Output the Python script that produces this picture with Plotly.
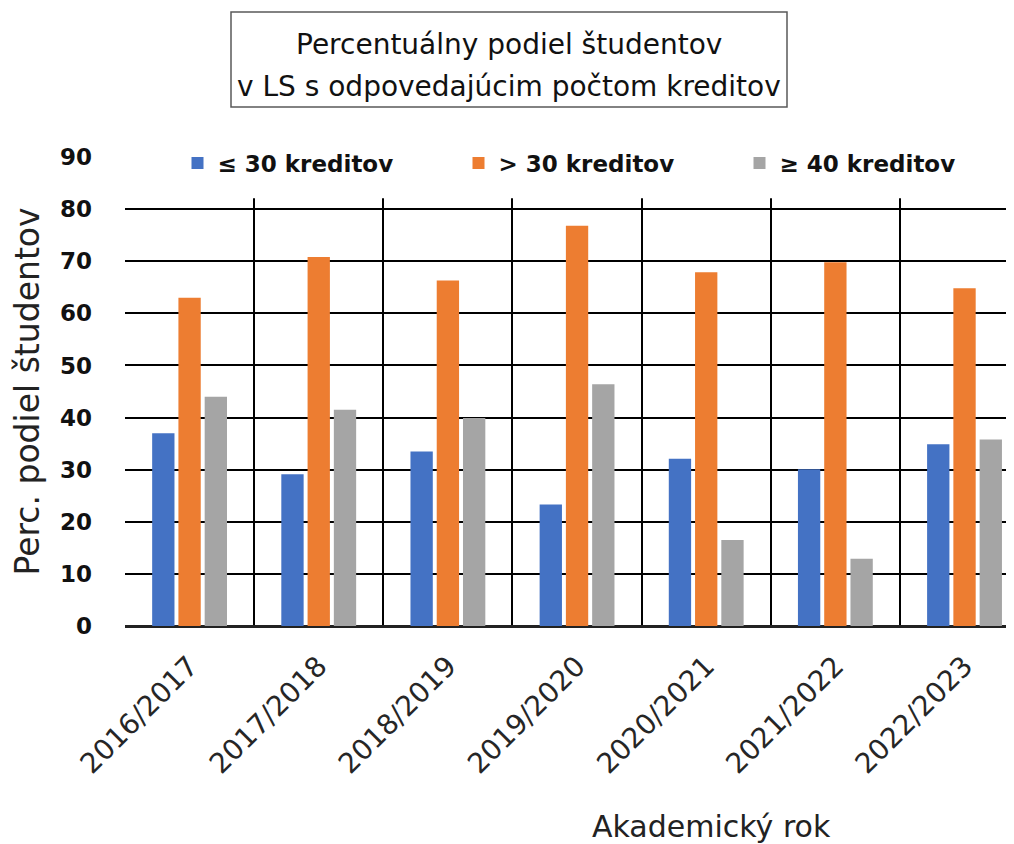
import plotly.graph_objects as go

years = ["2016/2017", "2017/2018", "2018/2019", "2019/2020", "2020/2021", "2021/2022", "2022/2023"]
le30 = [37.0, 29.1, 33.5, 23.3, 32.1, 30.1, 34.9]
gt30 = [63.0, 70.8, 66.3, 76.8, 67.9, 69.8, 64.8]
ge40 = [44.0, 41.5, 39.9, 46.4, 16.5, 12.9, 35.8]
series_names = ["≤ 30 kreditov", "> 30 kreditov", "≥ 40 kreditov"]
colors = ["#4472C4", "#ED7D31", "#A5A5A5"]

FONT = "DejaVu Sans"
OFF = 8  # page body margin in the browser
W, H = 1014, 844
L, R, T, B = 125 - OFF, 0, 157 - OFF, H - (626 - OFF)
PW, PH = W - L - R, H - T - B


def px_x(px):  # screen px -> paper x
    return (px - OFF - L) / PW


def px_y(py):  # screen px -> paper y
    return (H - B - (py - OFF)) / PH


fig = go.Figure()
for name, vals, col in zip(series_names, [le30, gt30, ge40], colors):
    fig.add_trace(go.Bar(x=years, y=vals, name=name, marker=dict(color=col, line=dict(width=0))))

fig.update_layout(
    width=W, height=H,
    paper_bgcolor="white", plot_bgcolor="white",
    margin=dict(l=L, r=R, t=T, b=B, autoexpand=False),
    barmode="group", bargap=0.39, bargroupgap=0.15,
    font=dict(family=FONT, color="#000000"),
    showlegend=True,
    legend=dict(orientation="h", x=px_x(177.5), y=px_y(163), xanchor="left", yanchor="middle",
                bgcolor="rgba(0,0,0,0)", font=dict(size=23, family=FONT, color="#111", weight="bold"),
                entrywidth=236, entrywidthmode="pixels"),
)
fig.update_xaxes(
    range=[-0.5, 6.445], tickson="boundaries", showgrid=True, gridcolor="#000000", gridwidth=2,
    ticks="", tickangle=-45, tickfont=dict(size=28, family=FONT, color="#262626"),
    ticklabelstandoff=17, showline=False, zeroline=False, automargin=False,
)
fig.update_yaxes(
    range=[0, 90], dtick=10, showgrid=True, gridcolor="#000000", gridwidth=2,
    zeroline=True, zerolinecolor="#222", zerolinewidth=3, automargin=False,
    tickfont=dict(size=23, family=FONT, color="#111", weight="bold"), ticklabelstandoff=32,
    title=dict(text="Perc. podiel študentov", font=dict(size=33, family=FONT, color="#222"), standoff=15),
)
# white band hiding the top of the plot area (above ~82)
fig.add_shape(type="rect", xref="paper", yref="y", x0=-0.003, x1=1.0, y0=82.1, y1=90.5,
              fillcolor="white", line=dict(width=0), layer="above")
# title box
fig.add_shape(type="rect", xref="paper", yref="paper", x0=px_x(231), x1=px_x(787),
              y0=px_y(107), y1=px_y(12), fillcolor="white", line=dict(color="#595959", width=1.5),
              layer="above")
for line_text, cy in [("Percentuálny podiel študentov", 44), ("v LS s odpovedajúcim počtom kreditov", 86)]:
    fig.add_annotation(text=line_text, xref="paper", yref="paper", x=px_x(509), y=px_y(cy),
                       xanchor="center", yanchor="middle", showarrow=False,
                       font=dict(size=28, family=FONT, color="#111"))
fig.add_annotation(text="Akademický rok", xref="paper", yref="paper",
                   x=px_x(711), y=px_y(826), xanchor="center", yanchor="middle",
                   showarrow=False, font=dict(size=30, family=FONT, color="#222"))
fig.write_html("out.html")
